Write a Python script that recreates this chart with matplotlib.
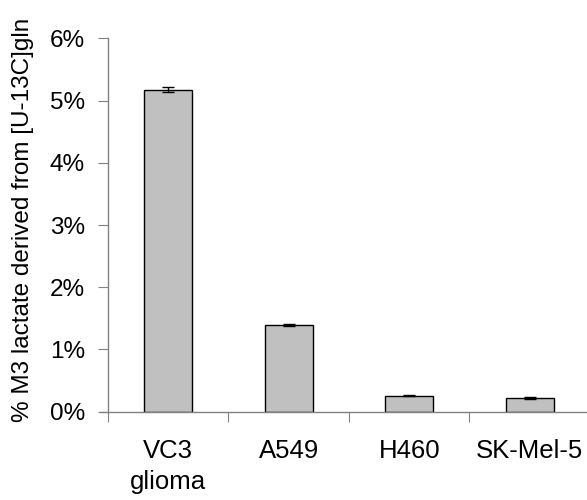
import matplotlib
matplotlib.use("Agg")
import matplotlib.pyplot as plt
from matplotlib.ticker import FuncFormatter

categories = ["VC3\nglioma", "A549", "H460", "SK-Mel-5"]
values = [5.17, 1.39, 0.26, 0.22]
errors = [0.04, 0.02, 0.01, 0.015]
yticks = [0, 1, 2, 3, 4, 5, 6]

plt.rcParams['font.family'] = ['Liberation Sans', 'DejaVu Sans']

fig = plt.figure(figsize=(5.87, 5.0), dpi=100)
ax = fig.add_axes([0.184, 0.1766, 0.821, 0.7468])

x = list(range(len(categories)))
ax.bar(x, values, width=0.4, color="#c0c0c0", edgecolor="black", linewidth=1.0,
       yerr=errors, capsize=4, error_kw=dict(ecolor="black", elinewidth=1.0, capthick=1.0))

ax.set_xlim(-0.5, len(categories) - 0.5)
ax.set_ylim(0, 6)
ax.set_yticks(yticks)
ax.yaxis.set_major_formatter(FuncFormatter(lambda v, p: f"{int(v)}%"))
ax.set_xticks([i - 0.5 for i in range(len(categories))])
ax.set_xticklabels([])
ax.set_xticks(x, minor=True)
ax.set_xticklabels(categories, minor=True, fontsize=18.5, linespacing=1.35)
ax.tick_params(axis="x", which="minor", length=0, pad=20)
ax.tick_params(axis="x", which="major", length=7, direction="out", color="#808080")
ax.tick_params(axis="y", length=7, direction="out", color="#808080", labelsize=17.5, pad=9.5)

for s in ["top", "right"]:
    ax.spines[s].set_visible(False)
for s in ["left", "bottom"]:
    ax.spines[s].set_color("#808080")
    ax.spines[s].set_linewidth(1.0)
ax.spines["bottom"].set_bounds(-0.57, len(categories) - 0.5)
ax.spines["bottom"].set_clip_on(False)

fig.text(0.04, 0.56, "% M3 lactate derived from [U-13C]gln", rotation=90,
         ha="center", va="center", fontsize=17.5)

fig.savefig("out.png", dpi=100)
